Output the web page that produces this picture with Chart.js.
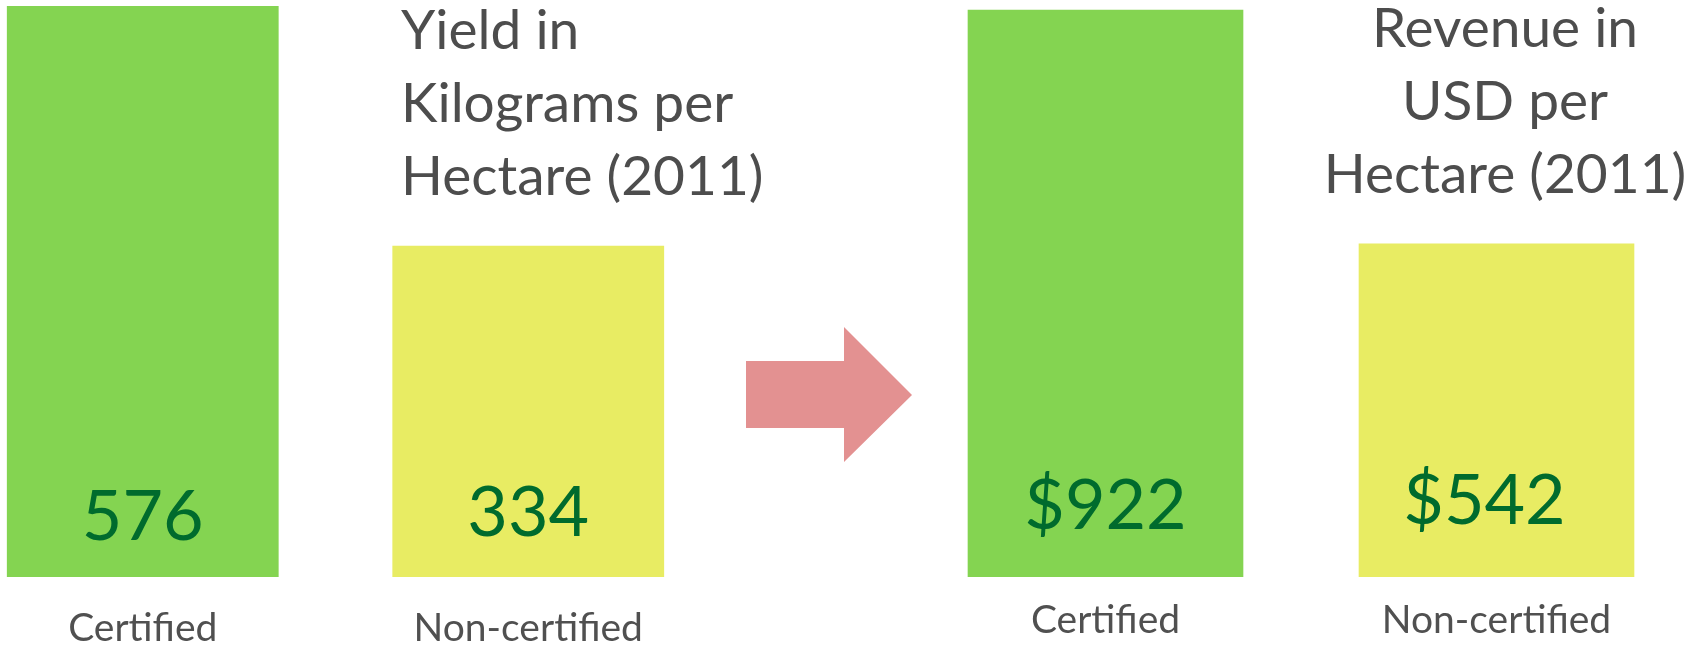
<!DOCTYPE html>
<html>
<head>
<meta charset="utf-8">
<script src="https://cdn.jsdelivr.net/npm/chart.js@4/dist/chart.umd.min.js"></script>
<style>
  html, body { margin: 0; padding: 0; background: #fff; }
  body { width: 1700px; height: 649px; position: relative; overflow: hidden; font-family: Lato, "Open Sans", sans-serif; }
  .box { position: absolute; top: 0; height: 649px; }
  .title { position: absolute; color: #4d4d4d; font-size: 55px; line-height: 73px; white-space: nowrap; }
  #arrow { position: absolute; left: 0; top: 0; }
</style>
</head>
<body>
<div class="box" style="left:-50px;width:771px"><canvas id="yieldChart"></canvas></div>
<div class="box" style="left:910px;width:782px"><canvas id="revenueChart"></canvas></div>
<div class="title" id="yieldTitle" style="left:401px;top:-8px"></div>
<div class="title" id="revenueTitle" style="left:1305px;top:-10px;width:400px;text-align:center"></div>
<svg id="arrow" width="1700" height="649">
  <polygon points="746,361 844,361 844,327 912,395 844,462 844,428 746,428" fill="#e39191"/>
</svg>
<script>
// data
const categories = ['Certified', 'Non-certified'];
const yieldValues = [576, 334];
const revenueValues = [922, 542];
const yieldTitle = ['Yield in', 'Kilograms per', 'Hectare (2011)'];
const revenueTitle = ['Revenue in', 'USD per', 'Hectare (2011)'];

const barColors = ['#84d451', '#e8ec63'];

document.getElementById('yieldTitle').innerHTML = yieldTitle.join('<br>');
document.getElementById('revenueTitle').innerHTML = revenueTitle.join('<br>');

// draws the value inside each bar, near its bottom
const valueLabels = {
    id: 'valueLabels',
    afterDatasetsDraw(chart, args, opts) {
        const ctx = chart.ctx;
        const meta = chart.getDatasetMeta(0);
        const values = chart.data.datasets[0].data;
        ctx.save();
        ctx.font = '70px Lato, "Open Sans", sans-serif';
        ctx.fillStyle = '#006b2d';
        ctx.textAlign = 'center';
        ctx.textBaseline = 'middle';
        meta.data.forEach((bar, i) => {
            ctx.fillText(opts.prefix + values[i], bar.x + (opts.dx[i] || 0), bar.base - opts.lift[i]);
        });
        ctx.restore();
    }
};

function makeChart(id, values, yMax, prefix, tickPad, lift, dx) {
    return new Chart(document.getElementById(id), {
        type: 'bar',
        data: {
            labels: categories,
            datasets: [{
                data: values,
                backgroundColor: barColors,
                borderWidth: 0,
                categoryPercentage: 1,
                barPercentage: 0.705
            }]
        },
        options: {
            responsive: true,
            maintainAspectRatio: false,
            animation: false,
            layout: { padding: 0 },
            plugins: {
                legend: { display: false },
                tooltip: { enabled: false },
                valueLabels: { prefix: prefix, lift: lift, dx: dx }
            },
            scales: {
                x: {
                    grid: { display: false },
                    border: { display: false },
                    afterFit: (scale) => { scale.height = 72; },
                    ticks: {
                        color: '#505050',
                        padding: tickPad,
                        font: { family: 'Lato, "Open Sans", sans-serif', size: 39, lineHeight: 1 }
                    }
                },
                y: { display: false, min: 0, max: yMax }
            }
        },
        plugins: [valueLabels]
    });
}

makeChart('yieldChart', yieldValues, 582, '', 24, [60, 64], [0, 0]);
makeChart('revenueChart', revenueValues, 938, '$', 16, [71, 76], [0, -12]);
</script>
</body>
</html>
